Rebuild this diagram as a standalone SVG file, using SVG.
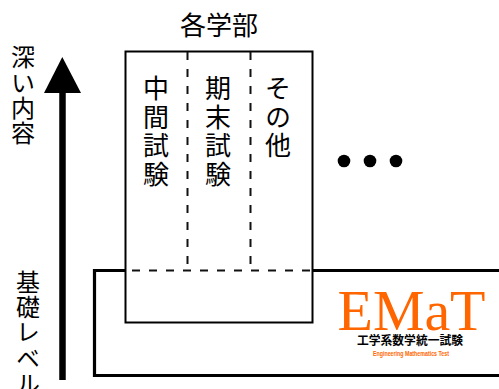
<svg xmlns="http://www.w3.org/2000/svg" width="499" height="389" viewBox="0 0 499 389">
<style>
text{font-family:"Noto Sans CJK JP","Noto Sans",sans-serif;fill:#000}
.h{font-size:26px;text-anchor:middle}
.v{font-size:26px;writing-mode:vertical-rl;letter-spacing:2.5px}
.side{font-size:24px;writing-mode:vertical-rl;letter-spacing:1.4px}
.line{fill:none;stroke:#000}
.dash{fill:none;stroke:#111;stroke-width:2;stroke-dasharray:8 9}
</style>
<rect width="499" height="389" fill="#fff"/>
<g id="connectors">
<line class="line" x1="62.500" y1="92" x2="62.500" y2="380" stroke-width="6.500"/>
<polygon points="62.300,57 44,93 81,93" fill="#000"/>
</g>
<g id="base-box">
<path class="line" stroke-width="3.200" d="M125,270.500H94.500V375.500H499M312,270.500H499"/>
</g>
<g id="faculty-box">
<rect x="125.500" y="51.500" width="187" height="271" fill="none" stroke="#000" stroke-width="2"/>
<path class="dash" d="M187.500,52V270M250.500,52V270"/>
<path class="dash" stroke-dasharray="8 8" d="M132,270.500H312"/>
</g>
<g id="labels">
<text class="h" x="219" y="35">各学部</text>
<text class="v" x="156" y="75.500">中間試験</text>
<text class="v" x="218" y="75.500">期末試験</text>
<text class="v" x="278" y="75.500">その他</text>
<text class="side" x="23" y="45">深い内容</text>
<text class="side" x="28" y="269.500">基礎レベル</text>
</g>
<g id="dots">
<circle cx="344" cy="161" r="6.300"/><circle cx="370" cy="161" r="6.300"/><circle cx="396" cy="161" r="6.300"/>
</g>
<g id="logo">
<text x="411.500" y="330" style="font-family:'Liberation Serif',serif;font-size:58px;fill:#f60" text-anchor="middle" textLength="148" lengthAdjust="spacingAndGlyphs">EMaT</text>
<text x="410" y="345" style="font-size:12px;font-weight:700" text-anchor="middle" textLength="106" lengthAdjust="spacingAndGlyphs">工学系数学統一試験</text>
<text x="411" y="355.500" style="font-family:'Liberation Sans',sans-serif;font-size:6.500px;font-weight:700;fill:#f60" text-anchor="middle" textLength="76" lengthAdjust="spacingAndGlyphs">Engineering Mathematics Test</text>
</g>
</svg>
